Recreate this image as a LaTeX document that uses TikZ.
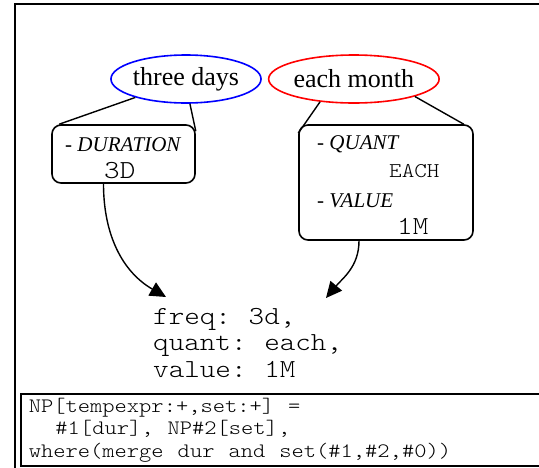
\documentclass[tikz,border=0pt]{standalone}
\usepackage{fontspec}
\setmainfont{Liberation Serif}
\setmonofont[FakeStretch=1.14, WordSpace={1.14,0,0}]{Latin Modern Mono Light}
\usepackage{tikz}
\usetikzlibrary{
  arrows.meta,
  positioning,
  shapes.geometric
}
\definecolor{tempBlue}{RGB}{0,0,255}
\definecolor{tempRed}{RGB}{255,0,0}
\tikzset{
  phraseNode/.style={
    ellipse,
    line width=1.6pt,
    minimum height=48pt,
    inner sep=0pt,
    font=\fontsize{26}{30}\selectfont
  },
  featBox/.style={
    rectangle,
    rounded corners=9pt,
    draw,
    line width=1.6pt
  },
  featLabel/.style={
    anchor=base west,
    inner sep=0pt,
    font=\fontsize{21}{24}\selectfont
  },
  featValue/.style={
    anchor=base west,
    inner sep=0pt,
    font=\ttfamily\fontsize{26}{30}\selectfont
  },
  treeEdge/.style={
    line width=1.4pt
  },
  mergeArrow/.style={
    -{Triangle[length=16pt,width=15pt]},
    line width=1.4pt
  },
  ruleBox/.style={
    draw,
    line width=1.6pt,
    anchor=north west,
    align=flush left,
    text width=512pt,
    inner xsep=8pt,
    inner ysep=0pt,
    minimum height=72pt,
    font=\ttfamily\fontsize{20.5}{22.5}\selectfont
  }
}

\begin{document}
\begin{tikzpicture}[x=1pt, y=-1pt]
  \useasboundingbox (0,0) rectangle (539,467);
  \draw[line width=2pt] (15,480) |- (560,4);

  \node[phraseNode, draw=tempBlue, minimum width=140pt]
    (three) at (186,79) {three days};
  \node[phraseNode, draw=tempRed, minimum width=154pt, right=6pt of three]
    (month) {each month};

  \node[featBox, minimum width=143pt, minimum height=58pt]
    (dur) at (123.5,154) {};
  \node[featBox, minimum width=174pt, minimum height=115pt]
    (set) at (386,182.5) {};

  \node[featLabel] (durName) at (65,151) {- \textit{DURATION}};
  \node[featValue] (durVal) at (104,178) {3D};
  \node[featLabel] (quantName) at (317,149) {- \textit{QUANT}};
  \node[featValue, font=\ttfamily\fontsize{21}{24}\selectfont]
    (quantVal) at (389,177) {EACH};
  \node[featLabel] (valName) at (317,207) {- \textit{VALUE}};
  \node[featValue] (valVal) at (397,234) {1M};

  \draw[treeEdge] (three.200) -- ([xshift=8pt]dur.north west);
  \draw[treeEdge] (three.279) -- ([yshift=-7pt]dur.north east);
  \draw[treeEdge] (month.214) -- ([yshift=-9pt]set.north west);
  \draw[treeEdge] (month.344) -- ([xshift=-10pt]set.north east);

  \node[anchor=base west, align=left, inner sep=0pt,
    font=\ttfamily\fontsize{26}{26.5}\selectfont]
    (result) at (153,377) {freq: 3d,\\quant: each,\\value: 1M};
  \coordinate (resultL) at (166,297);
  \coordinate (resultR) at (326,298);

  \draw[mergeArrow] ([xshift=-20pt]dur.south) to[out=270, in=150] (resultL);
  \draw[mergeArrow] ([xshift=-27pt]set.south) to[out=270, in=50] (resultR);

  \node[ruleBox] (rule) at (20,393)
    {NP[tempexpr:+,set:+] =\\\hspace*{1.3em}\#1[dur], NP\#2[set],\\where(merge dur and set(\#1,\#2,\#0))};
\end{tikzpicture}
\end{document}
